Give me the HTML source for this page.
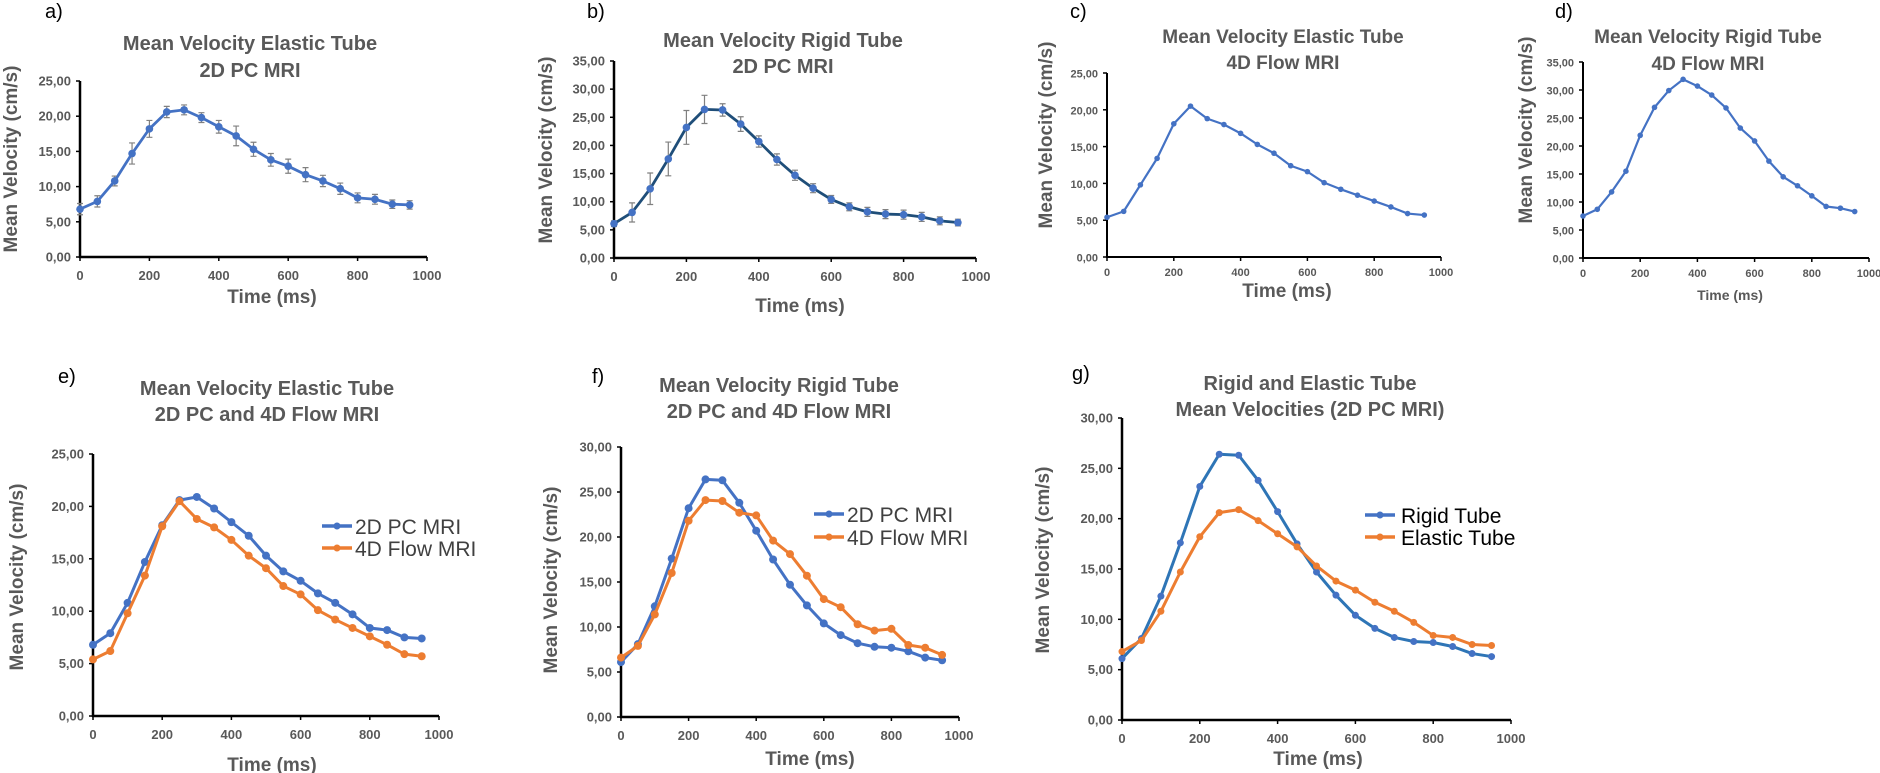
<!DOCTYPE html>
<html><head><meta charset="utf-8"><style>
html,body{margin:0;padding:0;background:#fff;}
svg{display:block;font-family:"Liberation Sans",sans-serif;}
</style></head><body>
<svg id="fig" width="1880" height="773" viewBox="0 0 1880 773"></svg>
<script>
const times = [0,50,100,150,200,250,300,350,400,450,500,550,600,650,700,750,800,850,900,950];
const elastic2D = [6.8,7.9,10.8,14.7,18.2,20.6,20.9,19.8,18.5,17.2,15.3,13.8,12.9,11.7,10.8,9.7,8.4,8.2,7.5,7.4];
const elastic2DErr = [0.8,0.8,0.7,1.5,1.2,0.8,0.7,0.7,0.9,1.4,1.0,0.9,1.0,1.0,0.8,0.8,0.7,0.7,0.6,0.6];
const rigid2D = [6.1,8.1,12.3,17.6,23.2,26.4,26.3,23.8,20.7,17.5,14.7,12.4,10.4,9.1,8.2,7.8,7.7,7.3,6.6,6.3];
const rigid2DErr = [0.5,1.7,2.8,3.0,3.0,2.5,1.1,1.3,1.0,1.0,0.9,0.8,0.7,0.7,0.8,0.8,0.8,0.8,0.7,0.6];
const elastic4D = [5.4,6.2,9.8,13.4,18.1,20.5,18.8,18.0,16.8,15.3,14.1,12.4,11.6,10.1,9.2,8.4,7.6,6.8,5.9,5.7];
const rigid4D = [7.5,8.7,11.8,15.5,21.9,26.9,29.9,31.9,30.7,29.1,26.8,23.2,20.9,17.3,14.5,12.9,11.1,9.2,8.9,8.3];
const rigid4DCompare = [6.6,7.9,11.4,16.0,21.8,24.1,24.0,22.7,22.4,19.6,18.1,15.7,13.1,12.2,10.3,9.6,9.8,8.0,7.7,6.9];
const xTicks = [0,200,400,600,800,1000];

const NS='http://www.w3.org/2000/svg';
const svg=document.getElementById('fig');
function mk(tag,a,parent){const e=document.createElementNS(NS,tag);for(const k in a)e.setAttribute(k,a[k]);(parent||svg).appendChild(e);return e;}
function txt(s,a,parent){const e=mk('text',a,parent);e.textContent=s;return e;}
const GRAY='#595959', BLUE='#4472C4', ORANGE='#ED7D31';

function panel(c){
  const g=mk('g',{});
  
  
  const sx=v=>c.x0+(c.x1-c.x0)*v/1000;
  const sy=v=>c.y0-(c.y0-c.yTop)*v/c.yMax;
  const l=txt(c.id+')',{x:c.lx,y:c.ly,'font-size':20,fill:'#000'},g);
  
  
  c.title.forEach((t,i)=>{
    const e=txt(t,{x:c.tx,y:c.ty[i],'font-size':c.tfs,'font-weight':'bold',fill:GRAY,'text-anchor':'middle'},g);
    
    
  });
  const ya=mk('line',{x1:c.x0,y1:c.y0+1,x2:c.x0,y2:c.yTop,stroke:'#000','stroke-width':c.aw},g);
  
  
  const xa=mk('line',{x1:c.x0-1,y1:c.y0,x2:c.x1,y2:c.y0,stroke:'#000','stroke-width':c.aw},g);
  
  
  for(let v=0;v<=c.yMax;v+=5){
    const tk=mk('line',{x1:c.x0-4,y1:sy(v),x2:c.x0,y2:sy(v),stroke:'#000','stroke-width':1.5},g);
    
    
    const e=txt(v.toFixed(2).replace('.',','),{x:c.x0-9,y:sy(v)+4.5,'font-size':c.fs,'font-weight':'bold',fill:GRAY,'text-anchor':'end'},g);
    
    
  }
  xTicks.forEach(v=>{
    const tk=mk('line',{x1:sx(v),y1:c.y0,x2:sx(v),y2:c.y0+4,stroke:'#000','stroke-width':1.5},g);
    
    
    const e=txt(String(v),{x:sx(v),y:c.y0+c.xlo,'font-size':c.fs,'font-weight':'bold',fill:GRAY,'text-anchor':'middle'},g);
    
    
  });
  const xt=txt('Time (ms)',{x:c.xtx,y:c.xty,'font-size':c.xfs,'font-weight':'bold',fill:GRAY,'text-anchor':'middle'},g);
  
  
  const yt=txt('Mean Velocity (cm/s)',{x:0,y:0,'font-size':c.yfs,'font-weight':'bold',fill:GRAY,'text-anchor':'middle',transform:`translate(${c.ytx},${c.yty}) rotate(-90)`},g);
  
  
  c.series.forEach(s=>{
    if(s.err){
      s.vals.forEach((v,i)=>{
        const x=sx(times[i]),a=sy(v+s.err[i]),b=sy(v-s.err[i]);
        const eb=mk('path',{d:`M${x},${a}V${b}M${x-3},${a}H${x+3}M${x-3},${b}H${x+3}`,stroke:'#808080','stroke-width':1.2,fill:'none'},g);
        
        
      });
    }
    const pts=s.vals.map((v,i)=>sx(times[i])+','+sy(v)).join(' ');
    const pl=mk('polyline',{points:pts,fill:'none',stroke:s.line,'stroke-width':s.w,'stroke-linejoin':'round'},g);
    
    
    s.vals.forEach((v,i)=>{
      const p=mk('circle',{cx:sx(times[i]),cy:sy(v),r:s.r,fill:s.dot},g);
      
      
    });
  });
  if(c.legend){
    c.legend.forEach((L,i)=>{
      const y=c.legend.y[i];
      const ln=mk('line',{x1:c.legend.x,y1:y,x2:c.legend.x+30,y2:y,stroke:L.c,'stroke-width':3.5},g);
      
      
      const d=mk('circle',{cx:c.legend.x+15,cy:y,r:3.5,fill:L.c},g);
      
      
      const t=txt(L.t,{x:c.legend.x+c.legend.dx,y:y+8,'font-size':c.legend.fs,fill:c.legend.col},g);
      
      
    });
  }
}

panel({id:'a',x0:80,x1:427,y0:257,yTop:81,yMax:25,aw:2.5,fs:13,lx:45,ly:18,
  title:['Mean Velocity Elastic Tube','2D PC MRI'],tx:250,ty:[50,77],tfs:20,
  xlo:23,xtx:272,xty:303,xfs:19,ytx:17,yty:159,yfs:19,
  series:[{name:'elastic-2d',vals:elastic2D,err:elastic2DErr,line:BLUE,dot:BLUE,w:2.8,r:3.8}]});
panel({id:'b',x0:614,x1:976,y0:258,yTop:61,yMax:35,aw:2.5,fs:13,lx:587,ly:18,
  title:['Mean Velocity Rigid Tube','2D PC MRI'],tx:783,ty:[47,73],tfs:20,
  xlo:23,xtx:800,xty:312,xfs:19,ytx:552,yty:150,yfs:19,
  series:[{name:'rigid-2d',vals:rigid2D,err:rigid2DErr,line:'#1F4E79',dot:BLUE,w:2.8,r:3.8}]});
panel({id:'c',x0:1107,x1:1441,y0:257,yTop:73,yMax:25,aw:2,fs:11,lx:1070,ly:18,
  title:['Mean Velocity Elastic Tube','4D Flow MRI'],tx:1283,ty:[43,69],tfs:19,
  xlo:19,xtx:1287,xty:297,xfs:19,ytx:1052,yty:135,yfs:19,
  series:[{name:'elastic-4d',vals:elastic4D,line:BLUE,dot:BLUE,w:2.2,r:2.8}]});
panel({id:'d',x0:1583,x1:1869,y0:258,yTop:62,yMax:35,aw:2,fs:11,lx:1555,ly:18,
  title:['Mean Velocity Rigid Tube','4D Flow MRI'],tx:1708,ty:[43,70],tfs:19,
  xlo:19,xtx:1730,xty:300,xfs:14,ytx:1532,yty:130,yfs:19,
  series:[{name:'rigid-4d',vals:rigid4D,line:BLUE,dot:BLUE,w:2.2,r:2.8}]});
const legE=[{t:'2D PC MRI',c:BLUE},{t:'4D Flow MRI',c:ORANGE}];
legE.x=322;legE.y=[526,548];legE.dx=33;legE.fs=21;legE.col='#404040';
panel({id:'e',x0:93,x1:439,y0:716,yTop:454,yMax:25,aw:2.5,fs:13,lx:58,ly:383,
  title:['Mean Velocity Elastic Tube','2D PC and 4D Flow MRI'],tx:267,ty:[395,421],tfs:20,
  xlo:23,xtx:272,xty:771,xfs:19,ytx:23,yty:577,yfs:19,
  series:[{name:'elastic-2d',vals:elastic2D,line:BLUE,dot:BLUE,w:3,r:4},{name:'elastic-4d',vals:elastic4D,line:ORANGE,dot:ORANGE,w:3,r:4}],
  legend:legE});
const legF=[{t:'2D PC MRI',c:BLUE},{t:'4D Flow MRI',c:ORANGE}];
legF.x=814;legF.y=[514,537];legF.dx=33;legF.fs=21;legF.col='#404040';
panel({id:'f',x0:621,x1:959,y0:717,yTop:447,yMax:30,aw:2.5,fs:13,lx:592,ly:383,
  title:['Mean Velocity Rigid Tube','2D PC and 4D Flow MRI'],tx:779,ty:[392,418],tfs:20,
  xlo:23,xtx:810,xty:765,xfs:19,ytx:557,yty:580,yfs:19,
  series:[{name:'rigid-2d',vals:rigid2D,line:BLUE,dot:BLUE,w:3,r:4},{name:'rigid-4d',vals:rigid4DCompare,line:ORANGE,dot:ORANGE,w:3,r:4}],
  legend:legF});
const legG=[{t:'Rigid Tube',c:BLUE},{t:'Elastic Tube',c:ORANGE}];
legG.x=1365;legG.y=[515,537];legG.dx=36;legG.fs=21;legG.col='#000';
panel({id:'g',x0:1122,x1:1511,y0:720,yTop:418,yMax:30,aw:2.5,fs:13,lx:1072,ly:380,
  title:['Rigid  and Elastic Tube','Mean Velocities (2D PC MRI)'],tx:1310,ty:[390,416],tfs:20,
  xlo:23,xtx:1318,xty:765,xfs:19,ytx:1049,yty:560,yfs:19,
  series:[{name:'rigid-2d',vals:rigid2D,line:'#2E75B6',dot:BLUE,w:3,r:3.5},{name:'elastic-2d',vals:elastic2D,line:ORANGE,dot:ORANGE,w:3,r:3.5}],
  legend:legG});
</script>
</body></html>
